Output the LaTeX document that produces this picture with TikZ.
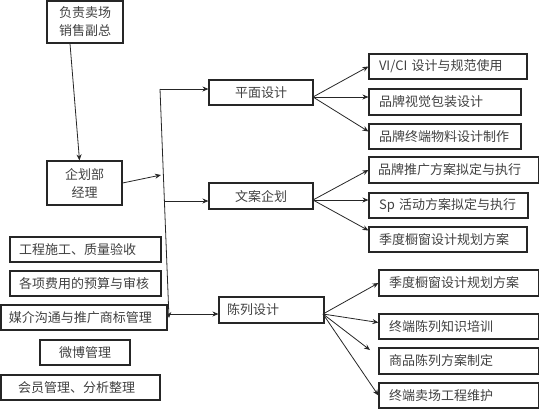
\documentclass[tikz,border=0pt]{standalone}
\usepackage{fontspec}
\newfontfamily\cjk{Noto Sans CJK SC}
\usetikzlibrary{arrows.meta}
\newcommand{\mybox}[8]{%
  \pgfmathsetmacro\bw{#4-#2}%
  \pgfmathsetmacro\bh{#5-#3}%
  \pgfmathsetmacro\tw{#4-#2-2*#6}%
  \node[box, minimum width=\bw pt, minimum height=\bh pt, text width=\tw pt, inner xsep=#6pt, align=#7] (#1) at ({(#2+#4)/2},{(#3+#5)/2}) {#8};}
\begin{document}
\begin{tikzpicture}[x=1pt,y=-1pt,
  box/.style={draw=black!85, line width=1.1pt, inner ysep=0pt, font=\cjk\fontsize{13}{18}\selectfont, text=black!75},
  arr/.style={draw=black!85, line width=0.8pt, -{Stealth[length=6pt,width=5pt]}}]
\useasboundingbox (0,0) rectangle (540,410);
% top and manager
\mybox{vp}{47}{1}{123}{43}{4}{center}{负责卖场\\销售副总}
\mybox{mgr}{47}{161}{122}{205}{4}{center}{企划部\\经理}
% left column
\mybox{L1}{10}{237}{161}{262}{9}{left}{工程施工、质量验收}
\mybox{L2}{10}{271}{161}{296}{9}{left}{各项费用的预算与审核}
\mybox{L3}{1}{305}{167}{330}{8}{left}{媒介沟通与推广商标管理}
\mybox{L4}{40}{340}{130}{365}{4}{center}{微博管理}
\mybox{L5}{1}{375}{160}{400}{17}{left}{会员管理、分析整理}
% middle
\mybox{pm}{209}{80}{313}{105}{4}{center}{平面设计}
\mybox{wa}{209}{183}{313}{209}{4}{center}{文案企划}
\mybox{cl}{219}{297}{324}{323}{8}{left}{陈列设计}
% right
\mybox{r1}{369}{54}{527}{79}{10}{left}{VI/CI~设计与规范使用}
\mybox{r2}{369}{89}{521}{115}{10}{left}{品牌视觉包装设计}
\mybox{r3}{369}{124}{521}{149}{10}{left}{品牌终端物料设计制作}
\mybox{r4}{369}{157}{538.5}{183}{9}{left}{品牌推广方案拟定与执行}
\mybox{r5}{369}{193}{528}{218}{10}{left}{Sp~活动方案拟定与执行}
\mybox{r6}{369}{227}{527}{252}{10}{left}{季度橱窗设计规划方案}
\mybox{r7}{379}{270}{538.5}{296}{10}{left}{季度橱窗设计规划方案}
\mybox{r8}{379}{314}{538.5}{339}{10}{left}{终端陈列知识培训}
\mybox{r9}{379}{348}{538.5}{374}{10}{left}{商品陈列方案制定}
\mybox{r10}{379}{383}{538.5}{408}{10}{left}{终端卖场工程维护}
% coordinates
\coordinate (bt) at (160,89);
\coordinate (bb) at (169,318);
\coordinate (j1) at (161,175);
\coordinate (b2) at (164,201);
\coordinate (b3) at (170,314);
\coordinate (pf) at (313,97);
\coordinate (wf) at (313,200);
\coordinate (cf) at (323,314);
\coordinate (c9) at (370,350);
% connectors
\draw[arr] ([xshift=-15pt]vp.south) -- ([xshift=-5pt]mgr.north);
\draw[arr] (mgr.east) -- (j1);
\draw[arr] (bt) -- (bb);
\draw[arr] (bt) -- (bt -| pm.west);
\draw[arr] (b2) -- (b2 -| wa.west);
\draw[arr] (b3) -- (b3 -| cl.west);
\draw[arr] (pf) -- (r1.west);
\draw[arr] (pf) -- (pf -| r2.west);
\draw[arr] (pf) -- ([yshift=5pt]r3.west);
\draw[arr] (wf) -- (r4.west);
\draw[arr] (wf) -- (wf -| r5.west);
\draw[arr] (wf) -- ([yshift=9pt]r6.west);
\draw[arr] (cf) -- (r7.west);
\draw[arr] (cf) -- ([yshift=4pt]r8.west);
\draw[arr] (cf) -- (c9);
\draw[arr] (cf) -- (r10.west);
\end{tikzpicture}
\end{document}
